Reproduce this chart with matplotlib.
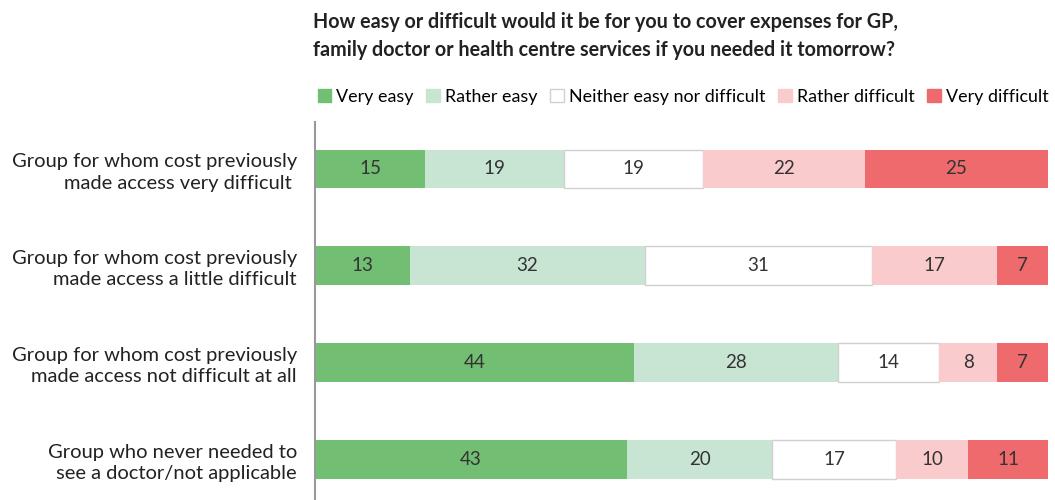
import numpy as np
import matplotlib
matplotlib.use("Agg")
import matplotlib.pyplot as plt
from matplotlib.patches import Patch

plt.rcParams['font.family'] = ['Lato', 'DejaVu Sans']

groups = [
    "Group for whom cost previously\nmade access very difficult ",
    "Group for whom cost previously\nmade access a little difficult",
    "Group for whom cost previously\nmade access not difficult at all",
    "Group who never needed to\nsee a doctor/not applicable",
]
answers = ["Very easy", "Rather easy", "Neither easy nor difficult",
           "Rather difficult", "Very difficult"]
very_easy = [15, 13, 44, 43]
rather_easy = [19, 32, 28, 20]
neither = [19, 31, 14, 17]
rather_difficult = [22, 17, 8, 10]
very_difficult = [25, 7, 7, 11]

colors = ["#72be72", "#c8e4d3", "#ffffff", "#f9cbcd", "#ee6a6d"]
edges = ["#72be72", "#c8e4d3", "#d0d0d0", "#f9cbcd", "#ee6a6d"]

data = np.array([very_easy, rather_easy, neither, rather_difficult, very_difficult], dtype=float)
# rows are rounded, so scale each bar to fill the full width
widths = data / data.sum(axis=0) * 100

fig = plt.figure(figsize=(10.55, 5.0), dpi=100)
ax = fig.add_axes([315 / 1055, 0.0, 733 / 1055, 1 - 122 / 500])

y = np.arange(len(groups))
left = np.zeros(len(groups))
for i in range(len(answers)):
    ax.barh(y, widths[i], left=left, height=0.4, color=colors[i],
            edgecolor=edges[i], linewidth=1.0 if i == 2 else 0)
    for j in range(len(groups)):
        ax.text(left[j] + widths[i][j] / 2, y[j], str(int(data[i][j])),
                ha="center", va="center", fontsize=13.5, color="#333333")
    left += widths[i]

ax.set_xlim(0, 100)
ax.set_ylim(3.42, -0.485)
ax.set_yticks(y)
ax.set_yticklabels(groups, fontsize=14.5, color="#222222", ha="right",
                   linespacing=1.3)
ax.tick_params(axis="y", length=0, pad=13)
ax.set_xticks([])
for s in ["top", "right", "bottom"]:
    ax.spines[s].set_visible(False)
ax.spines["left"].set_color("#999999")
ax.spines["left"].set_linewidth(1.5)

fig.text(313 / 1055, 1 - 36 / 500,
         "How easy or difficult would it be for you to cover expenses for GP,\n"
         "family doctor or health centre services if you needed it tomorrow?",
         fontsize=14.2, fontweight="bold", color="#222222", va="center", ha="left",
         linespacing=1.55)

handles = [Patch(facecolor=colors[i], edgecolor=edges[i], linewidth=1) for i in range(5)]
fig.legend(handles, answers, loc="center right", bbox_to_anchor=(1056 / 1055, 1 - 97 / 500),
           ncol=5, frameon=False, fontsize=12.9, handlelength=0.75, handleheight=0.75,
           handletextpad=0.3, columnspacing=0.7, borderaxespad=0)

fig.savefig("out.png", dpi=100)
